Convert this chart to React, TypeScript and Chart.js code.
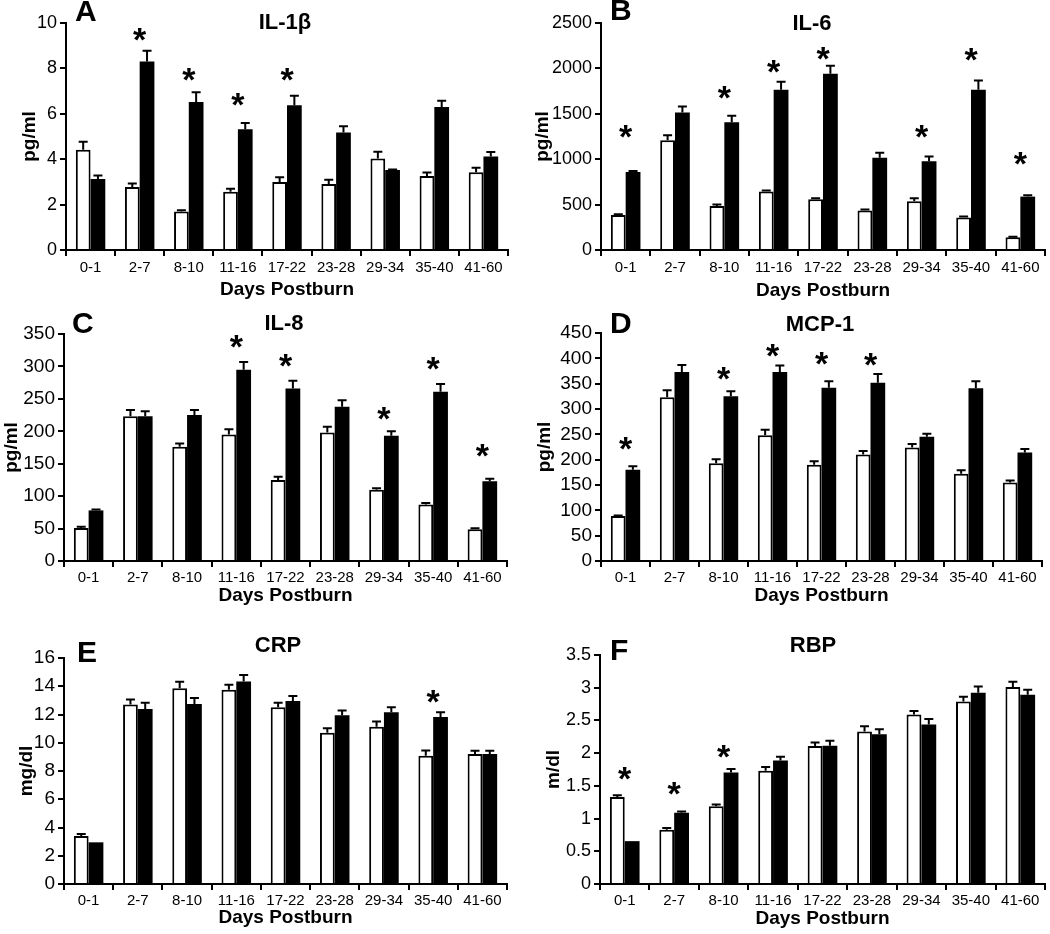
import React, { useEffect, useRef } from 'react';
import { Chart, registerables } from 'chart.js';

Chart.register(...registerables);

const FONT = "'Liberation Sans', Arial, Helvetica, sans-serif";

// ---- data ----
const categories = ['0-1', '2-7', '8-10', '11-16', '17-22', '23-28', '29-34', '35-40', '41-60'];

const il1bWhite = [4.42, 2.78, 1.7, 2.57, 3.0, 2.91, 4.03, 3.26, 3.42];
const il1bWhiteErr = [0.35, 0.15, 0.05, 0.13, 0.2, 0.19, 0.3, 0.15, 0.2];
const il1bBlack = [3.13, 8.3, 6.52, 5.32, 6.38, 5.18, 3.52, 6.3, 4.12];
const il1bBlackErr = [0.15, 0.48, 0.43, 0.28, 0.42, 0.27, 0.03, 0.28, 0.2];
const il1bStars = [null, 9.49, 7.72, 6.62, 7.72, null, null, null, null];

const il6White = [386, 1210, 485, 643, 559, 434, 537, 357, 140];
const il6WhiteErr = [8, 55, 15, 11, 11, 11, 33, 11, 5];
const il6Black = [858, 1515, 1408, 1765, 1941, 1015, 978, 1765, 588];
const il6BlackErr = [12, 65, 70, 88, 88, 55, 51, 103, 15];
const il6Stars = [1305, null, 1735, 2022, 2169, null, 1305, 2151, 1011];

const il8White = [51, 223, 176, 195, 125, 198, 110, 87, 49];
const il8WhiteErr = [2, 10, 5, 8, 5, 9, 2, 2.5, 1.5];
const il8Black = [78, 223, 225, 295, 266, 238, 193, 261, 123];
const il8BlackErr = [1.5, 8, 8, 12, 12, 10, 7, 12, 4];
const il8Stars = [null, null, null, 338.7, 308.8, null, 228, 304, 170];

const mcpWhite = [89, 323, 193, 248, 190, 210, 224, 172, 155];
const mcpWhiteErr = [1, 14, 8, 11, 7, 7, 7, 7, 4];
const mcpBlack = [180, 373, 325, 373, 342, 352, 245, 341, 214];
const mcpBlackErr = [7, 14, 10, 13, 13, 17, 6, 14, 7];
const mcpStars = [232, null, 370.7, 415, 399, 398.4, null, null, null];

const crpWhite = [3.4, 12.7, 13.85, 13.75, 12.51, 10.7, 11.13, 9.08, 9.2];
const crpWhiteErr = [0.14, 0.37, 0.47, 0.35, 0.33, 0.33, 0.37, 0.38, 0.24];
const crpBlack = [2.95, 12.39, 12.75, 14.34, 12.96, 11.95, 12.16, 11.83, 9.2];
const crpBlackErr = [0, 0.45, 0.42, 0.45, 0.35, 0.33, 0.35, 0.33, 0.24];
const crpStars = [null, null, null, null, null, null, null, 13.26, null];

const rbpWhite = [1.33, 0.83, 1.19, 1.73, 2.11, 2.33, 2.59, 2.79, 3.01];
const rbpWhiteErr = [0.025, 0.025, 0.025, 0.057, 0.052, 0.08, 0.056, 0.072, 0.083];
const rbpBlack = [0.655, 1.088, 1.706, 1.887, 2.113, 2.29, 2.438, 2.923, 2.892];
const rbpBlackErr = [0, 0.02, 0.052, 0.056, 0.077, 0.076, 0.082, 0.097, 0.077];
const rbpStars = [1.69, 1.459, 2.026, null, null, null, null, null, null];

const xTitle = 'Days Postburn';

// ---- layout (page pixels) ----
const ROW_Y = [0, 300, 620];
const ROW_H = [300, 320, 314];
const COL_X = [0, 525];
const COL_W = 525;

type Panel = {
  letter: string; title: string; yTitle: string;
  white: number[]; whiteErr: number[]; black: number[]; blackErr: number[]; stars: (number | null)[];
  max: number; step: number;
  row: number; col: number;
  L: number; T: number; R: number; B: number;
  yTitleX: number; xTitleY: number; xTickPad: number; yTickSize: number;
  titleX: number; titleBase: number; letterX: number; letterBase: number;
};

const panels: Panel[] = [
  { letter: 'A', title: 'IL-1β', yTitle: 'pg/ml', white: il1bWhite, whiteErr: il1bWhiteErr, black: il1bBlack, blackErr: il1bBlackErr, stars: il1bStars,
    max: 10, step: 2, row: 0, col: 0, L: 66, T: 23, R: 508, B: 250, yTitleX: 30, xTitleY: 290, xTickPad: 3, yTickSize: 18,
    titleX: 285, titleBase: 29, letterX: 75, letterBase: 21 },
  { letter: 'B', title: 'IL-6', yTitle: 'pg/ml', white: il6White, whiteErr: il6WhiteErr, black: il6Black, blackErr: il6BlackErr, stars: il6Stars,
    max: 2500, step: 500, row: 0, col: 1, L: 601, T: 23, R: 1045, B: 250, yTitleX: 543, xTitleY: 291, xTickPad: 3, yTickSize: 18,
    titleX: 812, titleBase: 30, letterX: 610, letterBase: 20 },
  { letter: 'C', title: 'IL-8', yTitle: 'pg/ml', white: il8White, whiteErr: il8WhiteErr, black: il8Black, blackErr: il8BlackErr, stars: il8Stars,
    max: 350, step: 50, row: 1, col: 0, L: 64, T: 334, R: 507, B: 561, yTitleX: 12, xTitleY: 596, xTickPad: 1.5, yTickSize: 19,
    titleX: 284, titleBase: 330, letterX: 72, letterBase: 333 },
  { letter: 'D', title: 'MCP-1', yTitle: 'pg/ml', white: mcpWhite, whiteErr: mcpWhiteErr, black: mcpBlack, blackErr: mcpBlackErr, stars: mcpStars,
    max: 450, step: 50, row: 1, col: 1, L: 601, T: 333, R: 1042, B: 561, yTitleX: 545, xTitleY: 596, xTickPad: 1.5, yTickSize: 19,
    titleX: 820, titleBase: 331, letterX: 610, letterBase: 333 },
  { letter: 'E', title: 'CRP', yTitle: 'mg/dl', white: crpWhite, whiteErr: crpWhiteErr, black: crpBlack, blackErr: crpBlackErr, stars: crpStars,
    max: 16, step: 2, row: 2, col: 0, L: 64, T: 658, R: 507, B: 884, yTitleX: 27, xTitleY: 918, xTickPad: 1.5, yTickSize: 19,
    titleX: 278, titleBase: 652, letterX: 77, letterBase: 662 },
  { letter: 'F', title: 'RBP', yTitle: 'm/dl', white: rbpWhite, whiteErr: rbpWhiteErr, black: rbpBlack, blackErr: rbpBlackErr, stars: rbpStars,
    max: 3.5, step: 0.5, row: 2, col: 1, L: 600, T: 655, R: 1045, B: 884, yTitleX: 554, xTitleY: 919, xTickPad: 1.5, yTickSize: 18,
    titleX: 813, titleBase: 652, letterX: 610, letterBase: 660 },
];

const TITLE_LH = 19 * 1.2;

function makeAnnot(p: Panel, cx: number, cy: number) {
  return {
    id: 'annot' + p.letter,
    afterDatasetsDraw(chart: any) {
      const { ctx } = chart;
      const xs = chart.scales.x;
      const ys = chart.scales.y;
      ctx.save();
      ctx.strokeStyle = '#000';
      ctx.lineWidth = 2;
      [0, 1].forEach((di) => {
        const meta = chart.getDatasetMeta(di);
        const vals = di === 0 ? p.white : p.black;
        const errs = di === 0 ? p.whiteErr : p.blackErr;
        meta.data.forEach((bar: any, i: number) => {
          if (!errs[i]) return;
          const y0 = ys.getPixelForValue(vals[i]);
          const y1 = ys.getPixelForValue(vals[i] + errs[i]);
          ctx.beginPath();
          ctx.moveTo(bar.x, y0);
          ctx.lineTo(bar.x, y1);
          ctx.moveTo(bar.x - 4.5, y1);
          ctx.lineTo(bar.x + 4.5, y1);
          ctx.stroke();
        });
      });
      // asterisks
      ctx.fillStyle = '#000';
      ctx.font = `bold 34px ${FONT}`;
      ctx.textAlign = 'center';
      ctx.textBaseline = 'alphabetic';
      const m = ctx.measureText('*');
      const off = (m.actualBoundingBoxAscent - m.actualBoundingBoxDescent) / 2;
      p.stars.forEach((s, i) => {
        if (s == null) return;
        ctx.fillText('*', xs.getPixelForValue(i), ys.getPixelForValue(s) + off);
      });
      // panel title
      ctx.font = `bold 22px ${FONT}`;
      ctx.textAlign = 'center';
      ctx.fillText(p.title, p.titleX - cx, p.titleBase - cy);
      // panel letter
      ctx.font = `bold 30px ${FONT}`;
      ctx.textAlign = 'left';
      ctx.fillText(p.letter, p.letterX - cx, p.letterBase - cy);
      ctx.restore();
    },
  };
}

function PanelChart({ p }: { p: Panel }) {
  const ref = useRef<HTMLCanvasElement | null>(null);
  const cx = COL_X[p.col];
  const cy = ROW_Y[p.row];
  const ch = ROW_H[p.row];
  useEffect(() => {
    if (!ref.current) return;
    const yLeft = p.yTitleX - TITLE_LH / 2;
    const yWidth = p.L - yLeft;
    const xHeight = p.xTitleY + TITLE_LH / 2 - p.B;
    const padding = {
      left: yLeft - cx,
      top: p.T - cy,
      right: cx + COL_W - p.R,
      bottom: cy + ch - (p.B + xHeight),
    };
    const chart = new Chart(ref.current, {
      type: 'bar',
      data: {
        labels: categories,
        datasets: [
          { data: p.white, backgroundColor: '#fff', borderColor: '#000', borderWidth: 2, borderSkipped: 'start' },
          { data: p.black, backgroundColor: '#000', borderColor: '#000', borderWidth: 0 },
        ],
      },
      options: {
        responsive: false,
        animation: false,
        events: [],
        layout: { padding },
        datasets: { bar: { categoryPercentage: 0.6, barPercentage: 1.0 } },
        plugins: { legend: { display: false }, tooltip: { enabled: false }, title: { display: false } },
        scales: {
          x: {
            offset: true,
            grid: { offset: true, drawOnChartArea: false, drawTicks: true, tickLength: 6, color: '#000', lineWidth: 2 },
            border: { display: true, color: '#000', width: 2 },
            ticks: { color: '#000', font: { family: FONT, size: 15 }, padding: p.xTickPad, autoSkip: false, maxRotation: 0 },
            title: { display: true, text: xTitle, color: '#000', font: { family: FONT, size: 19, weight: 'bold', lineHeight: 1.2 }, padding: 0 },
            afterFit: (s: any) => { s.height = xHeight; },
          },
          y: {
            min: 0,
            max: p.max,
            grid: { drawOnChartArea: false, drawTicks: true, tickLength: 6, color: '#000', lineWidth: 2 },
            border: { display: true, color: '#000', width: 2 },
            ticks: {
              stepSize: p.step,
              autoSkip: false,
              maxTicksLimit: 20,
              color: '#000',
              font: { family: FONT, size: p.yTickSize, lineHeight: 1 },
              padding: 3,
              callback: (v: any) => String(Math.round(Number(v) * 100) / 100),
            },
            title: { display: true, text: p.yTitle, color: '#000', font: { family: FONT, size: 19, weight: 'bold', lineHeight: 1.2 }, padding: 0 },
            afterFit: (s: any) => { s.width = yWidth; },
          },
        },
      } as any,
      plugins: [makeAnnot(p, cx, cy)],
    });
    return () => chart.destroy();
  }, []);
  return (
    <canvas
      ref={ref}
      width={COL_W}
      height={ch}
      style={{ position: 'absolute', left: cx, top: cy, width: COL_W, height: ch }}
    />
  );
}

export default function App() {
  return (
    <div style={{ position: 'absolute', left: 0, top: 0, width: 1050, height: 934, background: '#fff' }}>
      {panels.map((p) => (
        <PanelChart key={p.letter} p={p} />
      ))}
    </div>
  );
}
